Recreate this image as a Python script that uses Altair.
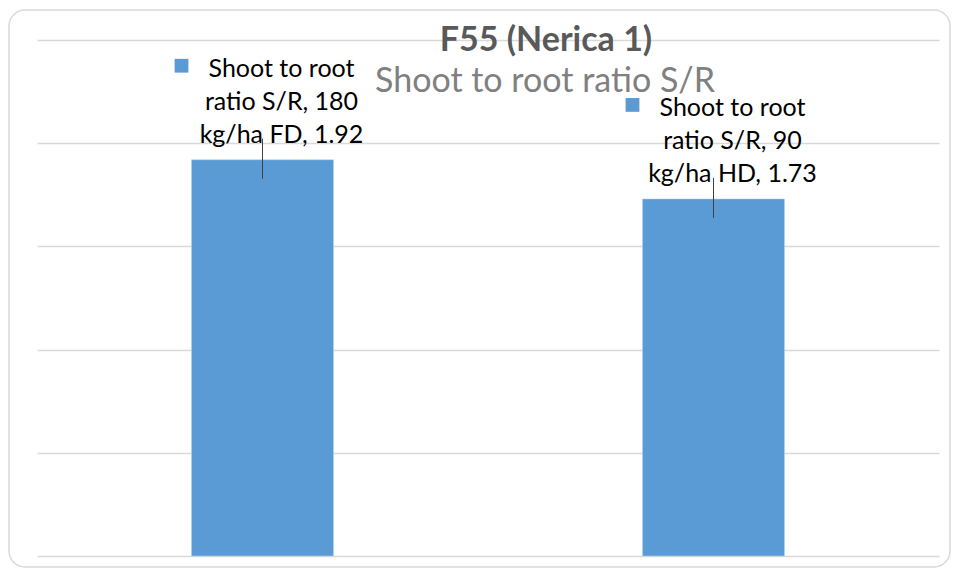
import altair as alt
import pandas as pd

categories = ["180 kg/ha FD", "90 kg/ha HD"]
values = [1.92, 1.73]
series_name = "Shoot to root ratio S/R"
label_lines = [
    ["Shoot to root", "ratio S/R, 180", "kg/ha FD, 1.92"],
    ["Shoot to root", "ratio S/R, 90", "kg/ha HD, 1.73"],
]
y_ticks = [0, 0.5, 1.0, 1.5, 2.0, 2.5]
title_text = "F55 (Nerica 1)"

df = pd.DataFrame({
    "category": categories,
    "value": values,
    "label": ["\n".join(l) for l in label_lines],
})

W, H = 902, 516
FONT = "Lato"
BLUE = "#5B9BD5"

x_scale = alt.Scale(domain=categories, paddingInner=0.685, paddingOuter=0.3425)
x_enc = alt.X("category:N", sort=categories, scale=x_scale, axis=None)
y_scale = alt.Scale(domain=[0, 2.5], nice=False, zero=True)
y_enc = alt.Y("value:Q", scale=y_scale,
              axis=alt.Axis(values=y_ticks, labels=False, ticks=False, domain=False,
                            grid=True, gridColor="#D9D9D9", gridWidth=1.3, title=None))

border = alt.Chart(pd.DataFrame({"k": [0]})).mark_rect(
    fillOpacity=0, stroke="#D9D9D9", strokeWidth=1.5, cornerRadius=16
).encode(
    x=alt.value(-28), x2=alt.value(913), y=alt.value(-30), y2=alt.value(527)
)

bars = alt.Chart(df).mark_bar(color=BLUE, stroke="#BDD7EE", strokeWidth=0.5).encode(
    x=x_enc, y=y_enc
)

leaders = alt.Chart(df).mark_rule(color="#404040", strokeWidth=1, yOffset=-21, y2Offset=19).encode(
    x=x_enc,
    y=alt.Y("value:Q", scale=y_scale),
    y2=alt.Y2("value:Q"),
)

labels = alt.Chart(df).mark_text(
    font=FONT, fontSize=25, color="#000000", align="center", baseline="middle",
    lineBreak="\n", lineHeight=33, dx=19, dy=-91
).encode(
    x=x_enc,
    y=alt.Y("value:Q", scale=y_scale),
    text="label:N",
)

keys = alt.Chart(df).mark_square(
    color=BLUE, opacity=1, filled=True, size=190, xOffset=-81, yOffset=-94
).encode(
    x=x_enc,
    y=alt.Y("value:Q", scale=y_scale),
)

title = alt.Chart(pd.DataFrame({"t": [title_text]})).mark_text(
    font=FONT, fontSize=34, fontWeight="bold", color="#595959", align="center", baseline="middle"
).encode(x=alt.value(509), y=alt.value(1), text="t:N")

subtitle = alt.Chart(pd.DataFrame({"t": [series_name]})).mark_text(
    font=FONT, fontSize=34, color="#808080", align="center", baseline="middle"
).encode(x=alt.value(508), y=alt.value(42), text="t:N")

chart = alt.layer(border, bars, title, subtitle, leaders, labels, keys).properties(
    width=W, height=H,
    background="white",
    autosize=alt.AutoSizeParams(type="none"),
    padding={"left": 29, "top": 32, "right": 12, "bottom": 12},
).configure_view(stroke=None)

chart.save("out.html", embed_options={"renderer": "svg", "actions": False})
